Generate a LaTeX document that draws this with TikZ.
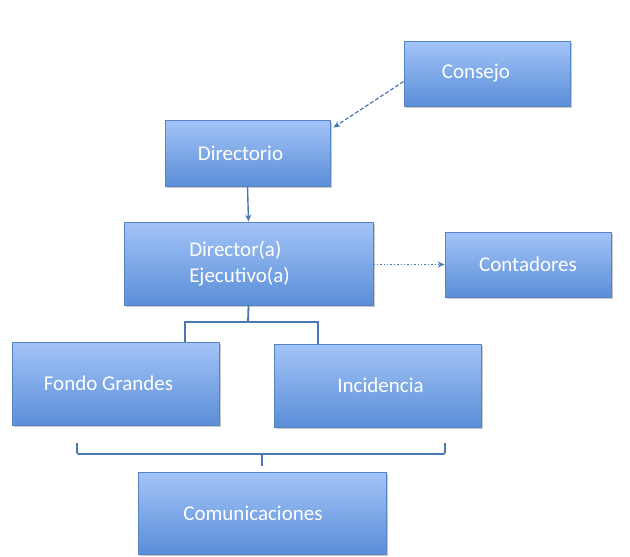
\documentclass[tikz,border=0pt]{standalone}
\usepackage{fontspec}
\setmainfont{Carlito}
\usetikzlibrary{shadows,arrows.meta}
\definecolor{boxtop}{HTML}{A3C4F7}
\definecolor{boxbot}{HTML}{5A8ED8}
\definecolor{boxline}{HTML}{5583C4}
\definecolor{conn}{HTML}{4A78B5}
\newcommand{\padr}[1]{\rule{#1}{0pt}}
\tikzset{
  orgbox/.style={draw=boxline, line width=0.8pt, top color=boxtop, bottom color=boxbot,
    text=white, font=\fontsize{21}{26}\selectfont, inner sep=0pt,
    drop shadow={shadow xshift=1.5pt, shadow yshift=-1.5pt, opacity=0.35, fill=black!60}},
  link/.style={draw=conn, line width=1.8pt},
  arr/.style={draw=conn, line width=1.4pt, -{Stealth[length=7pt,width=6pt]}},
}
\begin{document}
\begin{tikzpicture}[x=1pt,y=-1pt]
\useasboundingbox (0,0) rectangle (630,557);
\node[orgbox, minimum width=166pt, minimum height=65pt] (consejo) at (487,73.5) {Consejo\padr{22pt}};
\node[orgbox, minimum width=165pt, minimum height=66pt] (directorio) at (247.5,153) {Directorio\padr{14pt}};
\node[orgbox, minimum width=249pt, minimum height=83pt, align=left] (director) at (248.5,263.5) {Director(a)\\Ejecutivo(a)\padr{18pt}};
\node[orgbox, minimum width=166pt, minimum height=65pt] (contadores) at (528,264.5) {Contadores};
\node[orgbox, minimum width=207pt, minimum height=83pt] (fondo) at (115.5,383.5) {Fondo Grandes\padr{14pt}};
\node[orgbox, minimum width=207pt, minimum height=83pt] (incidencia) at (377.5,385.5) {\padr{6pt}Incidencia};
\node[orgbox, minimum width=248pt, minimum height=82pt] (comunic) at (262,513) {Comunicaciones\padr{18pt}};
% arrows
\draw[arr, dashed, dash pattern=on 4pt off 2pt, line width=1.2pt] ([yshift=-8pt]consejo.west) -- ([xshift=3pt,yshift=-8pt]directorio.north east);
\draw[arr] (directorio.south) -- (director.north);
\draw[arr, dotted, line width=1.4pt] (director.east |- contadores.west) -- (contadores.west);
% tree connector
\coordinate (j) at (248,322);
\draw[link] (director.south) -- (j);
\draw[link] (185,342) -- (185,322) -- (318,322) -- (318,344);
% bracket
\coordinate (bl) at (77,443);
\coordinate (br) at (445,443);
\draw[link, rounded corners=2pt] (bl) -- (77,454) -- (445,454) -- (br);
\draw[link] (262,454) -- (262,466);
\end{tikzpicture}
\end{document}
